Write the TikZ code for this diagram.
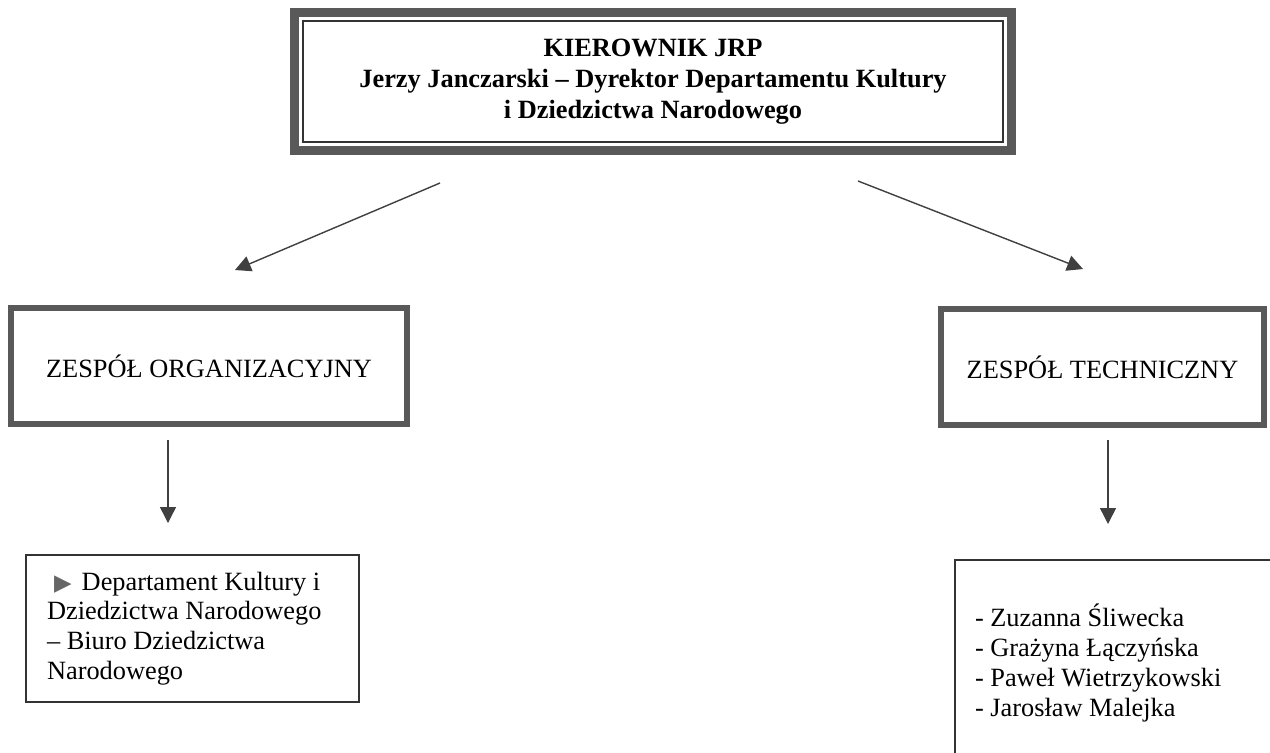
\documentclass[tikz,border=0pt]{standalone}
\usepackage{fontspec}
\setmainfont{Liberation Serif}
\newfontfamily\symfont{DejaVu Sans}
\usetikzlibrary{arrows.meta}
\tikzset{every node/.style={rectangle,outer sep=0pt,inner sep=0pt,font=\fontsize{15}{17.5}\selectfont}}
\tikzset{head/.style={draw=black!65,line width=5.1pt,minimum width=14.34cm,minimum height=2.76cm,align=center,font=\bfseries\fontsize{15}{17.5}\selectfont}}
\tikzset{team/.style={draw=black!65,line width=3.4pt,minimum height=2.32cm}}
\tikzset{list/.style={draw=black!80,line width=0.85pt,align=flush left,font=\fontsize{15}{17}\selectfont}}
\tikzset{arr/.style={draw=black!75,line width=0.8pt,-{Triangle[length=9pt,width=9pt]}}}

\begin{document}
\begin{tikzpicture}[x=0.02cm,y=-0.02cm]
  \clip (0,0) rectangle (1270,752);
  % head of the team
  \node[head] (kier) at (653,81.5) {KIEROWNIK JRP\\Jerzy Janczarski – Dyrektor Departamentu Kultury\\i Dziedzictwa Narodowego};
  \draw[black!80,line width=0.9pt] ([shift={(8.5,8.5)}]kier.north west) rectangle ([shift={(-8.5,-8.5)}]kier.south east);
  % two teams
  \node[team,minimum width=7.92cm] (zorg) at (209,366) {ZESPÓŁ ORGANIZACYJNY};
  \node[team,minimum width=6.46cm] (ztech) at (1102.5,367) {ZESPÓŁ TECHNICZNY};
  % members
  \node[list,text width=5.82cm,inner xsep=0.42cm,minimum height=2.94cm] (dorg) at (192.5,628.5) {\hspace*{4pt}{\symfont\color{black!60}\fontsize{13}{12}\selectfont ▶}\hspace*{2pt} Departament Kultury i\\Dziedzictwa Narodowego\\– Biuro Dziedzictwa\\Narodowego};
  \node[list,anchor=north west,text width=6cm,inner xsep=0.4cm,minimum width=6.8cm,minimum height=4.12cm] (dtech) at (955,560) {- Zuzanna Śliwecka\\- Grażyna Łączyńska\\- Paweł Wietrzykowski\\- Jarosław Malejka};
  % connectors
  \coordinate (kl) at (440,183);
  \coordinate (zl) at (235,270);
  \coordinate (kr) at (858,181);
  \coordinate (zr) at (1083,269);
  \coordinate (tl) at (168,440);
  \coordinate (bl) at (168,523);
  \coordinate (tr) at (1108,440);
  \coordinate (br) at (1108,524);
    \draw[arr] (kl) -- (zl);
    \draw[arr] (kr) -- (zr);
    \draw[arr] (tl) -- (bl);
    \draw[arr] (tr) -- (br);
\end{tikzpicture}
\end{document}
